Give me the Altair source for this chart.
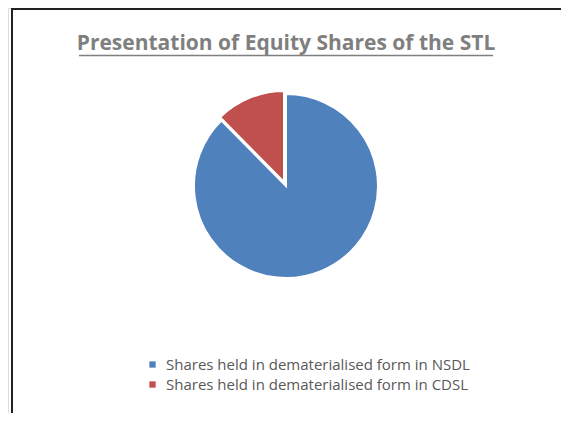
import altair as alt
import pandas as pd

categories = ["Shares held in dematerialised form in NSDL",
              "Shares held in dematerialised form in CDSL"]
values = [87.6, 12.4]
order_idx = [0, 1]
colors = ["#4F81BD", "#C0504D"]
title_text = "Presentation of Equity Shares of the STL"

df = pd.DataFrame({"category": categories, "value": values, "idx": order_idx})

W, H = 553, 405
CX, CY, R = 278, 178, 92

color_scale = alt.Scale(domain=categories, range=colors)

base = alt.Chart(df)

blue = base.mark_arc(radius=R, stroke="white", strokeWidth=2).encode(
    theta=alt.Theta("value:Q", stack=True),
    order=alt.Order("idx:Q"),
    color=alt.Color("category:N", scale=color_scale,
                    legend=alt.Legend(title=None, orient="none", legendX=137, legendY=349,
                                      symbolType="square", symbolSize=40, symbolStrokeWidth=0,
                                      labelFontSize=15, labelFont="Open Sans", labelColor="#595959",
                                      rowPadding=4, labelOffset=6, labelLimit=400)),
    opacity=alt.condition("datum.idx == 0", alt.value(1), alt.value(0)),
    x=alt.value(CX), y=alt.value(CY),
)

red = base.mark_arc(radius=R - 1, stroke="white", strokeWidth=2).encode(
    theta=alt.Theta("value:Q", stack=True),
    order=alt.Order("idx:Q"),
    color=alt.Color("category:N", scale=color_scale, legend=None),
    opacity=alt.condition("datum.idx == 1", alt.value(1), alt.value(0)),
    x=alt.value(CX - 2), y=alt.value(CY - 4),
)

title = alt.Chart(pd.DataFrame({"t": [title_text]})).mark_text(
    font="Open Sans", fontSize=21, fontWeight="bold", color="#7F7F7F", align="center", baseline="alphabetic"
).encode(text="t:N", x=alt.value(278), y=alt.value(42))

underline = alt.Chart(pd.DataFrame({"a": [0]})).mark_rule(color="#7F7F7F", strokeWidth=1.5).encode(
    x=alt.value(71), x2=alt.value(485), y=alt.value(47.5))

frame_top = alt.Chart(pd.DataFrame({"a": [0]})).mark_rule(color="#222222", strokeWidth=2).encode(
    x=alt.value(3), x2=alt.value(W), y=alt.value(1))
frame_left = alt.Chart(pd.DataFrame({"a": [0]})).mark_rule(color="#222222", strokeWidth=2).encode(
    x=alt.value(4), y=alt.value(0), y2=alt.value(H))

chart = alt.layer(blue, red, title, underline, frame_top, frame_left).properties(
    width=W, height=H, autosize=alt.AutoSizeParams(type="none"), padding=0
).configure_view(stroke=None).configure(background="white")

chart.save("out.html", embed_options={"renderer": "svg", "actions": False})
